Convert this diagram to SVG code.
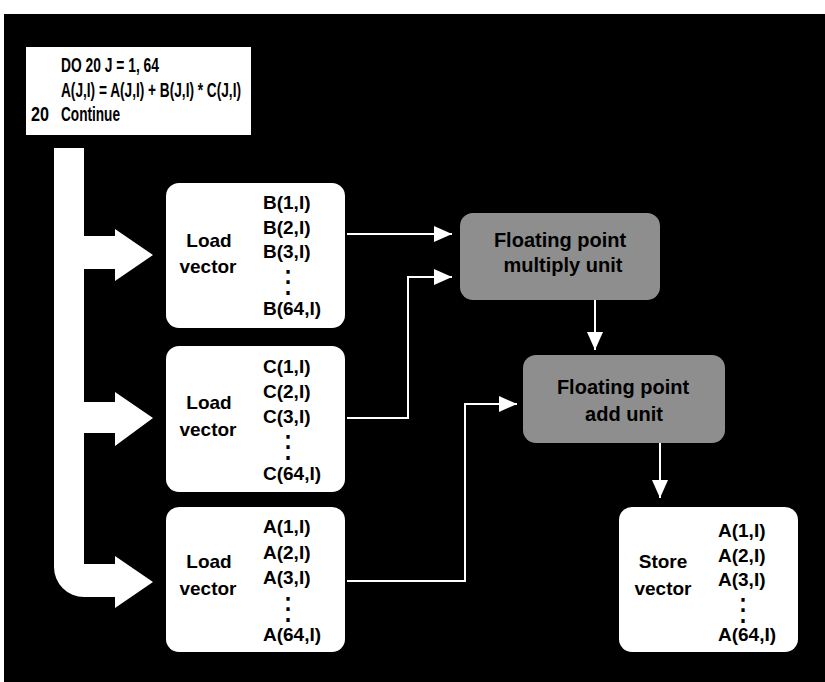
<svg xmlns="http://www.w3.org/2000/svg" width="825" height="682" viewBox="0 0 825 682">
<style>
text{font-family:"Liberation Sans",Arial,sans-serif;font-weight:bold;fill:#000}
.t{font-size:19px}
.c{font-size:21px}
.box{fill:#fff}
.unit{fill:#8e8e8e}
.ut{font-size:20px;text-anchor:middle}
.lbl{text-anchor:middle}
.dots{font-family:"DejaVu Sans",sans-serif;font-weight:normal;font-size:31px;text-anchor:middle}
.conn{fill:none;stroke:#fff;stroke-width:2}
</style>
<defs>
<marker id="ah" markerUnits="userSpaceOnUse" markerWidth="19" markerHeight="17" refX="18" refY="8" orient="auto">
<path d="M0,0 L18,8 L0,16 Z" fill="#fff"/>
</marker>
</defs>
<rect x="0" y="0" width="825" height="682" fill="#fff"/>
<rect x="4" y="14" width="821" height="668" fill="#000"/>

<g id="code">
<rect x="26" y="47" width="225" height="88" class="box"/>
<text class="c" x="61" y="72" textLength="98" lengthAdjust="spacingAndGlyphs">DO 20 J = 1, 64</text>
<text class="c" x="61" y="97" textLength="180" lengthAdjust="spacingAndGlyphs">A(J,I) = A(J,I) + B(J,I) * C(J,I)</text>
<text class="c" x="31" y="121" textLength="18" lengthAdjust="spacingAndGlyphs">20</text>
<text class="c" x="61" y="121" textLength="59" lengthAdjust="spacingAndGlyphs">Continue</text>
</g>

<g id="control-flow">
<path d="M54,148 L84,148 L84,236 L115,236 L115,229 L153,255 L115,281 L115,269 L84,269 L84,402 L115,402 L115,392 L153,418 L115,446 L115,433 L84,433 L84,564 L115,564 L115,556 L153,582 L115,608 L115,597 L84,597 A30,30 0 0 1 54,567 Z" fill="#fff"/>
</g>

<g id="load-b">
<rect x="166" y="183" width="179" height="145" rx="13" class="box"/>
<text class="t lbl" x="209" y="247">Load</text>
<text class="t lbl" x="208" y="273">vector</text>
<text class="t" x="263" y="209">B(1,I)</text>
<text class="t" x="263" y="234">B(2,I)</text>
<text class="t" x="263" y="258">B(3,I)</text>
<text class="dots" x="288" y="292">⋮</text>
<text class="t" x="263" y="315">B(64,I)</text>
</g>

<g id="load-c">
<rect x="166" y="346" width="179" height="146" rx="13" class="box"/>
<text class="t lbl" x="209" y="409">Load</text>
<text class="t lbl" x="208" y="436">vector</text>
<text class="t" x="263" y="373">C(1,I)</text>
<text class="t" x="263" y="398">C(2,I)</text>
<text class="t" x="263" y="423">C(3,I)</text>
<text class="dots" x="288" y="457">⋮</text>
<text class="t" x="263" y="480">C(64,I)</text>
</g>

<g id="load-a">
<rect x="166" y="507" width="179" height="145" rx="13" class="box"/>
<text class="t lbl" x="209" y="568">Load</text>
<text class="t lbl" x="208" y="595">vector</text>
<text class="t" x="263" y="533">A(1,I)</text>
<text class="t" x="263" y="559">A(2,I)</text>
<text class="t" x="263" y="584">A(3,I)</text>
<text class="dots" x="288" y="619">⋮</text>
<text class="t" x="263" y="641">A(64,I)</text>
</g>

<g id="store-a">
<rect x="619" y="507" width="179" height="145" rx="13" class="box"/>
<text class="t lbl" x="663" y="568">Store</text>
<text class="t lbl" x="663" y="595">vector</text>
<text class="t" x="718" y="537">A(1,I)</text>
<text class="t" x="718" y="562">A(2,I)</text>
<text class="t" x="718" y="586">A(3,I)</text>
<text class="dots" x="743" y="620">⋮</text>
<text class="t" x="718" y="641">A(64,I)</text>
</g>

<g id="multiply-unit">
<rect x="460" y="213" width="200" height="87" rx="13" class="unit"/>
<text class="ut" x="560" y="247">Floating point</text>
<text class="ut" x="563" y="272">multiply unit</text>
</g>

<g id="add-unit">
<rect x="523" y="355" width="202" height="88" rx="13" class="unit"/>
<text class="ut" x="623" y="394">Floating point</text>
<text class="ut" x="624" y="421">add unit</text>
</g>

<g id="connectors">
<polyline class="conn" points="347,234 452,234" marker-end="url(#ah)"/>
<polyline class="conn" points="347,418 408,418 408,277 452,277" marker-end="url(#ah)"/>
<polyline class="conn" points="347,581 465,581 465,404 517,404" marker-end="url(#ah)"/>
<polyline class="conn" points="595,300 595,350" marker-end="url(#ah)"/>
<polyline class="conn" points="660,443 660,498" marker-end="url(#ah)"/>
</g>
</svg>
